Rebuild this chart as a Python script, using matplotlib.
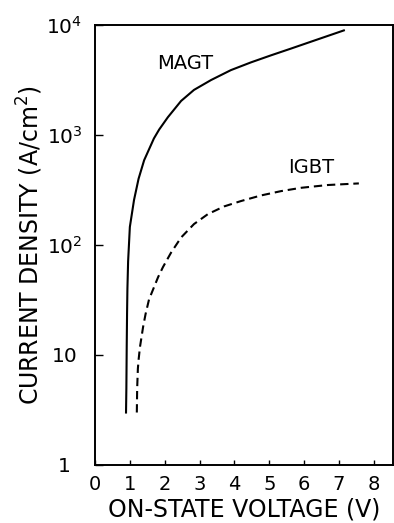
import matplotlib
matplotlib.use("Agg")
import matplotlib.pyplot as plt
from matplotlib.ticker import FixedLocator, FixedFormatter

# curve data (V, A/cm^2)
magt_v = [0.89, 0.90, 0.91, 0.92, 0.93, 0.95, 1.00, 1.12, 1.25, 1.41, 1.69, 1.84,
          2.09, 2.47, 2.84, 3.33, 3.90, 4.48, 5.05, 5.62, 6.28, 7.14]
magt_j = [3.0, 5.0, 12, 24, 40, 71, 146, 257, 400, 590, 930, 1120,
          1450, 2040, 2570, 3160, 3890, 4580, 5300, 6100, 7200, 8930]

igbt_v = [1.20, 1.21, 1.23, 1.25, 1.29, 1.38, 1.45, 1.55, 1.81, 1.95, 2.18, 2.47,
          2.84, 3.24, 3.70, 4.19, 4.76, 5.34, 5.91, 6.68, 7.57]
igbt_j = [3.0, 5.0, 7.5, 9.0, 11.8, 18, 23.5, 32, 51, 63, 85, 117,
          155, 191, 224, 251, 282, 309, 331, 351, 363]

x_ticks = [0, 1, 2, 3, 4, 5, 6, 7, 8]
y_ticks = [1, 10, 100, 1000, 10000]
y_tick_labels = ["1", "10", r"$10^2$", r"$10^3$", r"$10^4$"]

plt.rcParams["font.family"] = ["DejaVu Sans"]
plt.rcParams["lines.scale_dashes"] = False

fig = plt.figure(figsize=(3.94, 5.23), dpi=100)
ax = fig.add_axes([95 / 394, 1 - 465 / 523, 298 / 394, 440 / 523])

ax.plot(magt_v, magt_j, color="black", lw=1.5, solid_joinstyle="round")
ax.plot(igbt_v, igbt_j, color="black", lw=1.5, dashes=[6, 3.5])

ax.set_yscale("log")
ax.set_xlim(0, 8.55)
ax.set_ylim(1, 1e4)

ax.xaxis.set_major_locator(FixedLocator(x_ticks))
ax.yaxis.set_major_locator(FixedLocator(y_ticks))
ax.yaxis.set_major_formatter(FixedFormatter(y_tick_labels))
ax.yaxis.set_minor_locator(FixedLocator([]))

ax.tick_params(axis="x", direction="in", length=3.6, width=1.0, labelsize=14, pad=7)
ax.tick_params(axis="y", direction="in", length=5.8, width=1.0, labelsize=14.5, pad=22)
for lbl in ax.get_yticklabels():
    lbl.set_ha("center")

for sp in ax.spines.values():
    sp.set_linewidth(1.4)

ax.set_xlabel("ON-STATE VOLTAGE (V)", fontsize=17, labelpad=3)
ax.set_ylabel(r"CURRENT DENSITY (A/cm$^2$)", fontsize=17, labelpad=1)

ax.text(2.58, 4480, "MAGT", fontsize=14, ha="center", va="center")
ax.text(6.2, 510, "IGBT", fontsize=14, ha="center", va="center")

fig.savefig("out.png", dpi=100)
